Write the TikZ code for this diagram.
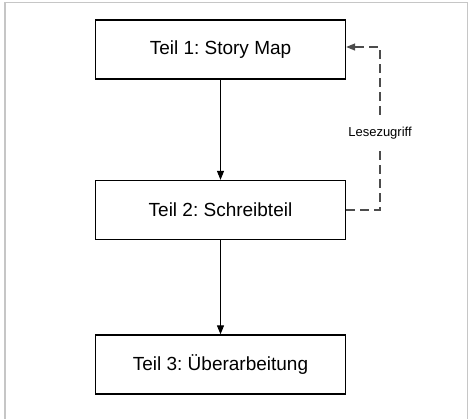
\documentclass[tikz,border=0pt]{standalone}
\usepackage{fontspec}
\setmainfont{Liberation Sans}
\usetikzlibrary{arrows.meta}
\frenchspacing

\begin{document}
\begin{tikzpicture}[x=1pt, y=-1pt, >={Triangle[length=9pt, width=7pt]},
    teilbox/.style={draw, line width=1.3pt, minimum width=250pt, minimum height=59pt, font=\fontsize{19}{22}\selectfont},
    lesen/.style={line width=1.3pt, dash pattern=on 9pt off 5pt, gray!60!black}]
  \useasboundingbox (0,0) rectangle (470,418);
  \draw[gray!45, line width=1.6pt] (5,420) -- (5,2.5) -- (467.5,2.5) -- (467.5,420);
  \node[teilbox] (teil1) at (220.5,49.5) {Teil 1: Story Map};
  \node[teilbox] (teil2) at (220.5,210) {Teil 2: Schreibteil};
  \node[teilbox] (teil3) at (220.5,364.5) {Teil 3: Überarbeitung};
  \draw[line width=1pt, ->] (teil1) -- (teil2);
  \draw[line width=1pt, ->] (teil2) -- (teil3);
  \node[font=\fontsize{13}{15}\selectfont, inner xsep=2pt, inner ysep=12pt] (zugriff) at (380,133) {Lesezugriff};
  \draw[lesen] (teil2.east) -| (zugriff.south);
  \draw[lesen, ->] (zugriff.north) |- ([yshift=2.5pt]teil1.east);
\end{tikzpicture}
\end{document}
